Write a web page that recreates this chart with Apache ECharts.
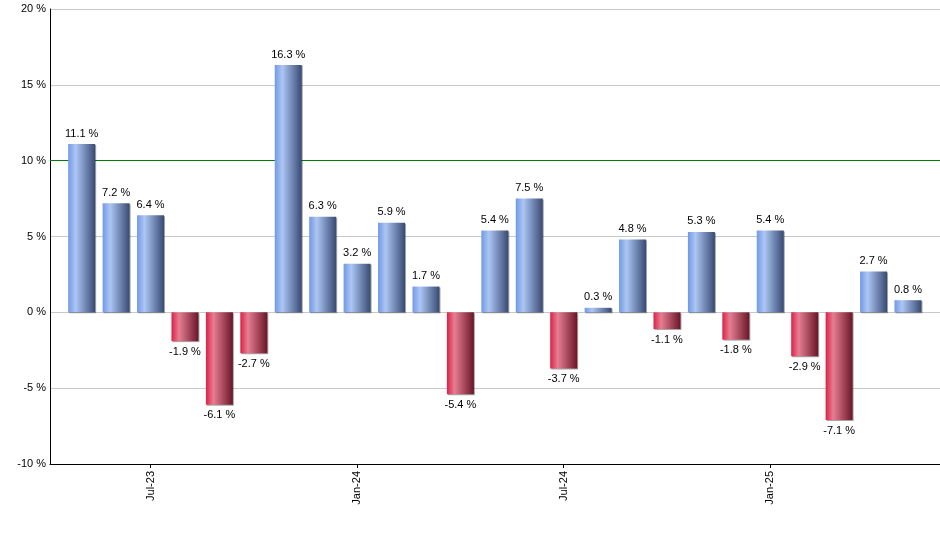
<!DOCTYPE html>
<html>
<head>
<meta charset="utf-8">
<title>Monthly returns</title>
<script src="https://cdn.jsdelivr.net/npm/echarts@6/dist/echarts.min.js"></script>
<style>
    html, body { margin: 0; padding: 0; background: #fff; }
    #chart_box { width: 940px; height: 550px; }
</style>
</head>
<body>
<div id="chart_box"></div>
<script>
// data
var months = ['May-23', 'Jun-23', 'Jul-23', 'Aug-23', 'Sep-23', 'Oct-23', 'Nov-23', 'Dec-23',
    'Jan-24', 'Feb-24', 'Mar-24', 'Apr-24', 'May-24', 'Jun-24', 'Jul-24', 'Aug-24', 'Sep-24',
    'Oct-24', 'Nov-24', 'Dec-24', 'Jan-25', 'Feb-25', 'Mar-25', 'Apr-25', 'May-25'];
var returns = [11.1, 7.2, 6.4, -1.9, -6.1, -2.7, 16.3, 6.3, 3.2, 5.9, 1.7, -5.4, 5.4, 7.5,
    -3.7, 0.3, 4.8, -1.1, 5.3, -1.8, 5.4, -2.9, -7.1, 2.7, 0.8];
var tickMonths = ['Jul-23', 'Jan-24', 'Jul-24', 'Jan-25'];
var yMin = -10, yMax = 20, yStep = 5;
var target = 10;

var chart = {
    init: function(){
        var myChart = echarts.init(document.getElementById('chart_box'));
        myChart.setOption(chart.option());
    },
    // bar fills
    grad: function(c0, c1, c2){
        return new echarts.graphic.LinearGradient(0, 0, 1, 0, [
            {offset: 0, color: c0},
            {offset: 0.28, color: c1},
            {offset: 1, color: c2}
        ]);
    },
    option: function(){
        var up = chart.grad('#7199e6', '#adc6f4', '#374a73');
        var down = chart.grad('#dc2046', '#e67e93', '#6b1527');
        var ticks = tickMonths.map(function(m){ return months.indexOf(m); });
        var data = returns.map(function(v, i){
            return {
                value: [i, v],
                itemStyle: {color: v >= 0 ? up : down},
                label: {position: v >= 0 ? 'top' : 'bottom'}
            };
        });
        return {
            animation: false,
            textStyle: {fontFamily: 'Liberation Sans, Arial, sans-serif'},
            grid: {left: 50, right: 0, top: 9, bottom: 86},
            xAxis: {
                type: 'value',
                min: -0.92,
                max: 24.93,
                splitLine: {show: false},
                axisLine: {onZero: false, lineStyle: {color: '#000', width: 1}},
                axisTick: {customValues: ticks, length: 4, lineStyle: {color: '#000'}},
                axisLabel: {
                    customValues: ticks,
                    rotate: 90,
                    margin: 7,
                    color: '#000',
                    fontSize: 11,
                    formatter: function(v){ return months[Math.round(v)]; }
                }
            },
            yAxis: {
                type: 'value',
                min: yMin,
                max: yMax,
                interval: yStep,
                axisLine: {show: true, onZero: false, lineStyle: {color: '#000', width: 1}},
                axisTick: {show: false},
                axisLabel: {margin: 4, color: '#000', fontSize: 11, formatter: '{value} %'},
                splitLine: {lineStyle: {color: '#c8c8c8'}}
            },
            series: [{
                type: 'bar',
                barWidth: 27,
                z: 3,
                data: data,
                itemStyle: {
                    shadowColor: 'rgba(0,0,0,0.35)',
                    shadowOffsetX: 1,
                    shadowOffsetY: 1,
                    shadowBlur: 0
                },
                label: {
                    show: true,
                    distance: 5,
                    color: '#000',
                    fontSize: 11,
                    formatter: function(p){ return p.value[1].toFixed(1) + ' %'; }
                },
                markLine: {
                    silent: true,
                    z: 1,
                    symbol: 'none',
                    label: {show: false},
                    lineStyle: {color: '#008000', width: 1, type: 'solid'},
                    data: [{yAxis: target}]
                }
            }]
        };
    }
};
chart.init();
</script>
</body>
</html>
